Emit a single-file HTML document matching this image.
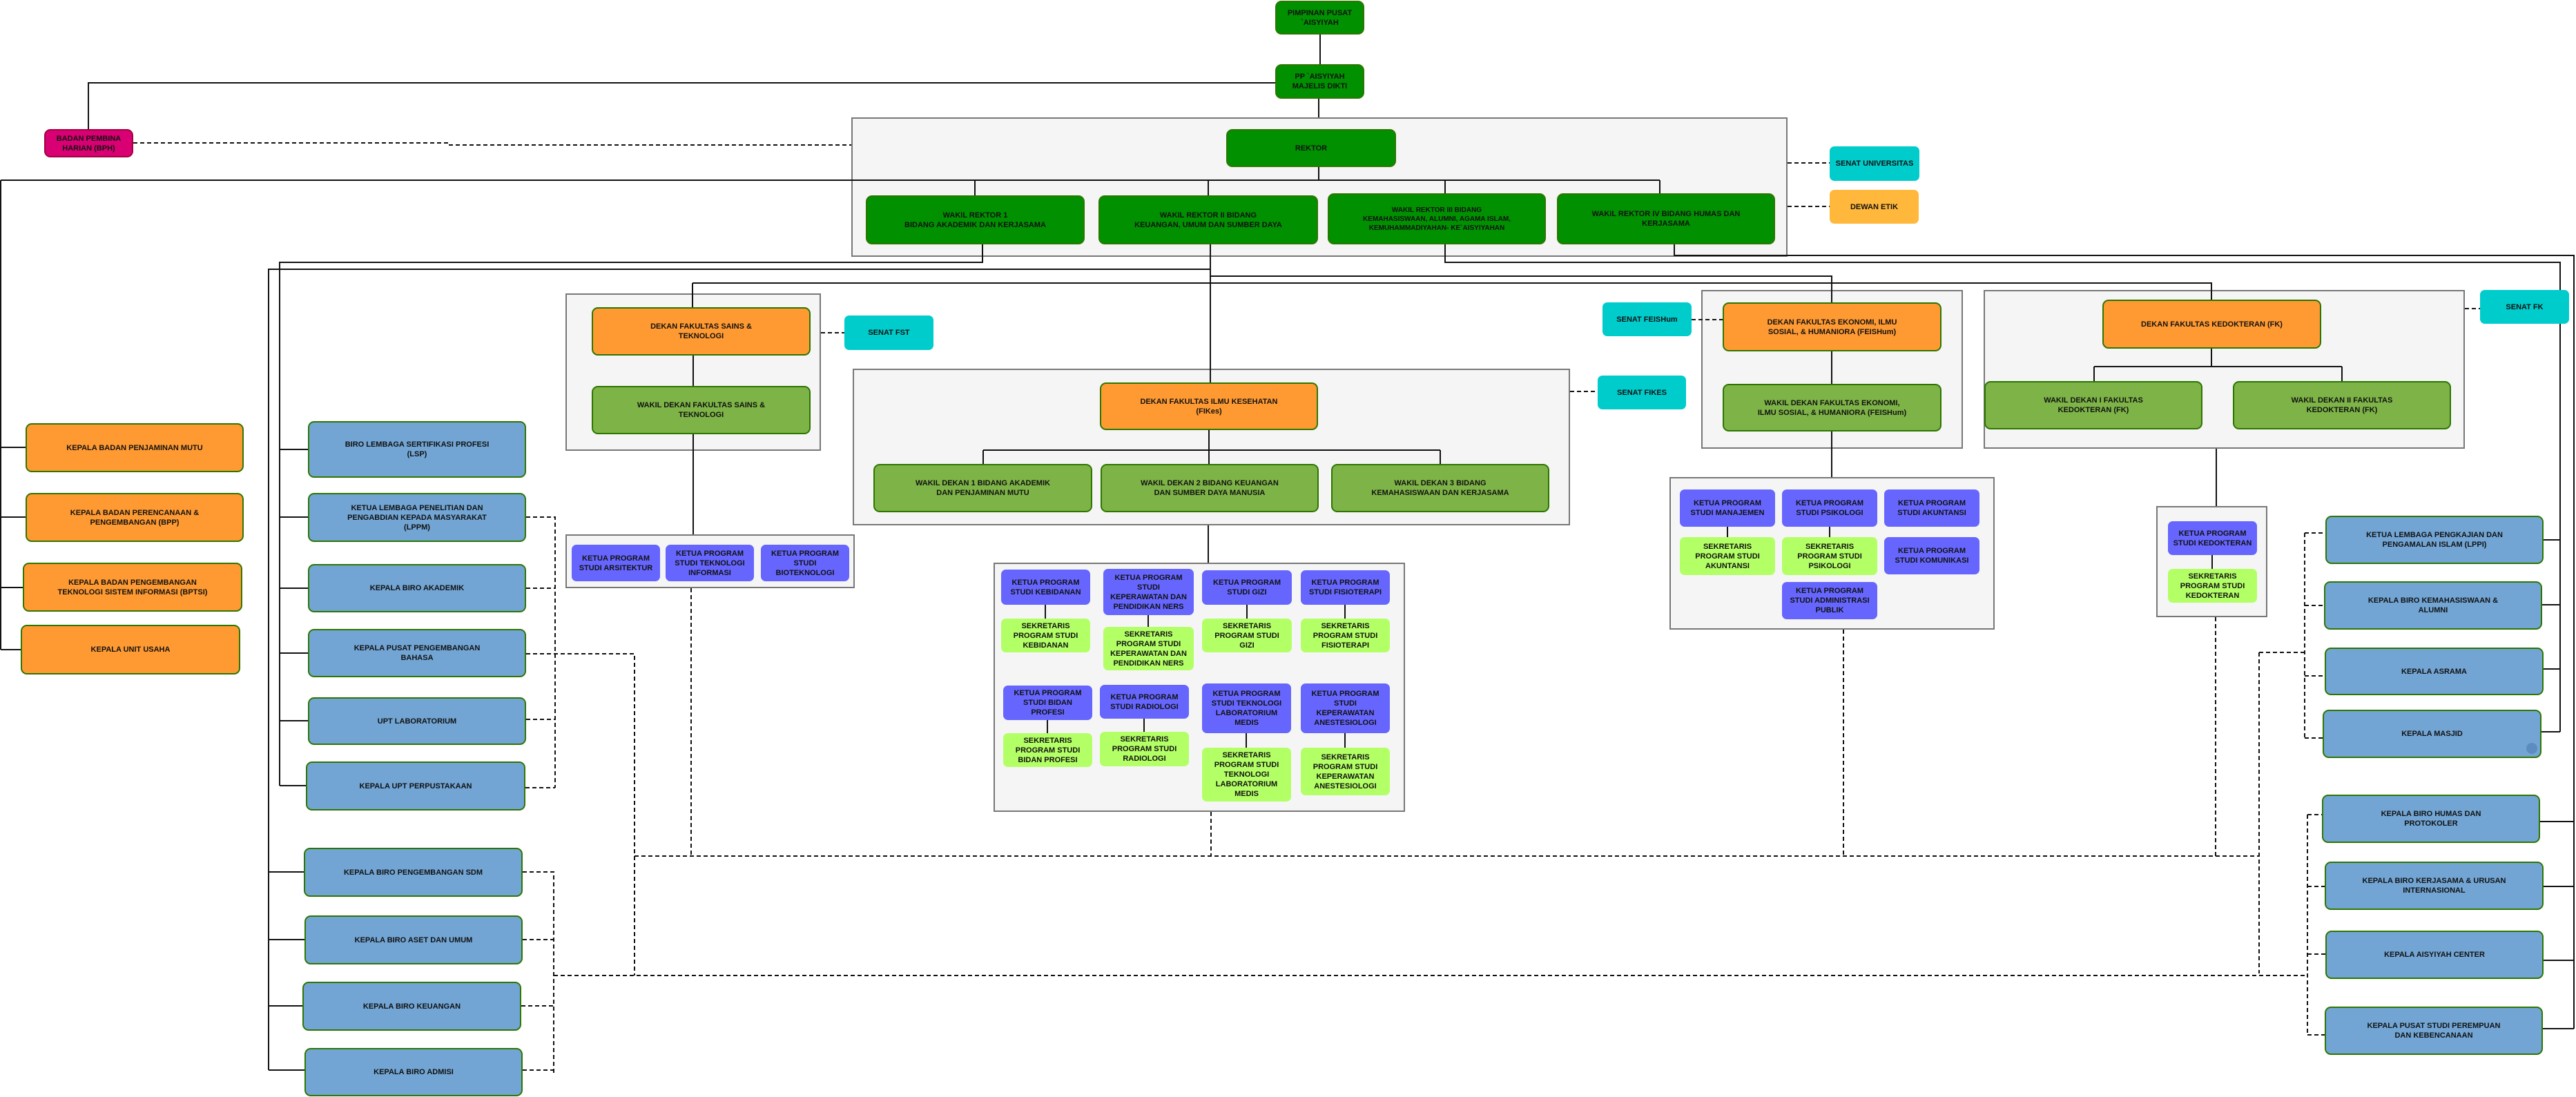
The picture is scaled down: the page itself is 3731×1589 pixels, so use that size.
<!DOCTYPE html>
<html><head><meta charset="utf-8"><style>
html,body{margin:0;padding:0;background:#fff;}
body{width:3731px;height:1589px;position:relative;overflow:hidden;font-family:"Liberation Sans",Arial,sans-serif;}
.c{position:absolute;background:#f5f5f5;border:2px solid #777;box-sizing:border-box;}
.b{position:absolute;box-sizing:border-box;display:flex;align-items:center;justify-content:center;text-align:center;font-size:11px;font-weight:bold;line-height:14px;color:#111;border-radius:9px;border:2px solid #2d7600;padding:0 6px;}
.g{background:#009000;}
.o{background:#ff9a33;}
.l{background:#7db347;}
.bl{background:#72a5d4;}
.p{background:#6666ff;border:none;border-radius:7px;padding:0 2px;white-space:nowrap;}
.s{background:#b3ff66;border:none;border-radius:7px;padding:0 2px;white-space:nowrap;}
.cy{background:#00cccc;border:none;border-radius:7px;}
svg{position:absolute;left:0;top:0;}
</style></head><body>
<div class="c" style="left:1233px;top:170px;width:1356px;height:202px"></div>
<div class="c" style="left:819px;top:425px;width:370px;height:228px"></div>
<div class="c" style="left:1235px;top:534px;width:1039px;height:227px"></div>
<div class="c" style="left:2464px;top:420px;width:379px;height:230px"></div>
<div class="c" style="left:2873px;top:420px;width:697px;height:230px"></div>
<div class="c" style="left:819px;top:774px;width:419px;height:78px"></div>
<div class="c" style="left:1439px;top:815px;width:596px;height:361px"></div>
<div class="c" style="left:2418px;top:691px;width:471px;height:221px"></div>
<div class="c" style="left:3123px;top:733px;width:161px;height:161px"></div>

<svg width="3731" height="1589" viewBox="0 0 3731 1589" fill="none">
<g stroke="#111" stroke-width="2">
<path d="M1847,120H128V187M1912,50V93M1910,143V170M1910,242V261M1,261H2404M1412,261V283M1750,261V283M2093,261V280M2404,261V280"/>
<path d="M1,261V941M1,648H37M1,749H37M1,851H33M1,941H30"/>
<path d="M1423,354V380H405V1138M405,651H446M405,749H446M405,852H446M405,946H446M405,1044H446M405,1138H443"/>
<path d="M1753,354V554M1753,390H389V1550M389,1263H440M389,1361H441M389,1457H438M389,1550H441"/>
<path d="M1753,400H2653V438M1003,410H3203V434M1003,410V445M1004,515V559M1004,629V774"/>
<path d="M2093,354V380H3708V1060M3684,782H3708M3682,876H3708M3684,969H3708M3681,1060H3708"/>
<path d="M2425,354V370H3728V1490M3679,1190H3728M3684,1284H3728M3684,1391H3728M3683,1490H3728"/>
<path d="M1751,623V672M1424,652H2086M1424,652V672M2086,652V672M1750,761V815"/>
<path d="M2653,509V556M2653,625V691M3203,505V531M3033,531H3392M3033,531V552M3392,531V552M3210,650V733M3204,804V824"/>
<path d="M1514,876V896M1663,891V908M1806,876V896M1948,876V896M1517,1043V1062M1657,1041V1060M1805,1062V1083M1948,1062V1083M2502,763V778M2650,763V778"/>
</g>
<g stroke="#111" stroke-width="2" stroke-dasharray="6 4">
<path d="M193,207H650V210H1233M2589,236H2650M2589,299H2650M1189,482H1223M2274,567H2314M2450,463H2495M3570,447H3592"/>
<path d="M762,749H804V1141M762,852H804M762,1042H804M761,1141H804M762,947H919V1413"/>
<path d="M757,1263H802V1554M757,1361H802M755,1457H802M757,1550H802M802,1413H3342"/>
<path d="M919,1240H3272M1001,852V1240M1754,1176V1240M2670,912V1240M3209,894V1240M3272,945V1410M3272,945H3338M3338,772V1069M3338,772H3368M3338,877H3366M3338,979H3367M3338,1069H3364"/>
<path d="M3342,1180V1499M3342,1180H3363M3342,1284H3367M3342,1382H3368M3342,1499H3367"/>
</g>
</svg>

<div class="b g" style="left:1847px;top:1px;width:129px;height:49px">PIMPINAN PUSAT<br>`AISYIYAH</div>
<div class="b g" style="left:1847px;top:93px;width:129px;height:50px">PP `AISYIYAH<br>MAJELIS DIKTI</div>
<div class="b" style="left:64px;top:187px;width:129px;height:41px;background:#d80073;border-color:#a50040">BADAN PEMBINA<br>HARIAN (BPH)</div>
<div class="b g" style="left:1776px;top:187px;width:246px;height:55px">REKTOR</div>
<div class="b g" style="left:1254px;top:283px;width:317px;height:71px">WAKIL REKTOR 1<br>BIDANG AKADEMIK DAN KERJASAMA</div>
<div class="b g" style="left:1591px;top:283px;width:318px;height:71px">WAKIL REKTOR II BIDANG<br>KEUANGAN, UMUM DAN SUMBER DAYA</div>
<div class="b g" style="left:1923px;top:280px;width:316px;height:74px;font-size:10px;line-height:13px">WAKIL REKTOR III BIDANG<br>KEMAHASISWAAN, ALUMNI, AGAMA ISLAM,<br>KEMUHAMMADIYAHAN- KE`AISYIYAHAN</div>
<div class="b g" style="left:2255px;top:280px;width:316px;height:74px">WAKIL REKTOR IV BIDANG HUMAS DAN<br>KERJASAMA</div>
<div class="b cy" style="left:2650px;top:212px;width:130px;height:50px">SENAT UNIVERSITAS</div>
<div class="b cy" style="left:2650px;top:275px;width:129px;height:49px;background:#ffb83b">DEWAN ETIK</div>

<div class="b o" style="left:857px;top:445px;width:317px;height:70px">DEKAN FAKULTAS SAINS &amp;<br>TEKNOLOGI</div>
<div class="b l" style="left:857px;top:559px;width:317px;height:70px">WAKIL DEKAN FAKULTAS SAINS &amp;<br>TEKNOLOGI</div>
<div class="b cy" style="left:1223px;top:457px;width:129px;height:50px">SENAT FST</div>
<div class="b p" style="left:828px;top:789px;width:128px;height:53px">KETUA PROGRAM<br>STUDI ARSITEKTUR</div>
<div class="b p" style="left:964px;top:789px;width:128px;height:53px">KETUA PROGRAM<br>STUDI TEKNOLOGI<br>INFORMASI</div>
<div class="b p" style="left:1102px;top:789px;width:128px;height:53px">KETUA PROGRAM<br>STUDI<br>BIOTEKNOLOGI</div>

<div class="b o" style="left:1593px;top:554px;width:316px;height:69px">DEKAN FAKULTAS ILMU KESEHATAN<br>(FIKes)</div>
<div class="b l" style="left:1265px;top:672px;width:317px;height:70px">WAKIL DEKAN 1 BIDANG AKADEMIK<br>DAN PENJAMINAN MUTU</div>
<div class="b l" style="left:1594px;top:672px;width:316px;height:70px">WAKIL DEKAN 2 BIDANG KEUANGAN<br>DAN SUMBER DAYA MANUSIA</div>
<div class="b l" style="left:1928px;top:672px;width:316px;height:70px">WAKIL DEKAN 3 BIDANG<br>KEMAHASISWAAN DAN KERJASAMA</div>
<div class="b cy" style="left:2314px;top:544px;width:128px;height:49px">SENAT FIKES</div>

<div class="b p" style="left:1450px;top:825px;width:129px;height:51px">KETUA PROGRAM<br>STUDI KEBIDANAN</div>
<div class="b s" style="left:1450px;top:896px;width:129px;height:49px">SEKRETARIS<br>PROGRAM STUDI<br>KEBIDANAN</div>
<div class="b p" style="left:1598px;top:824px;width:131px;height:67px">KETUA PROGRAM<br>STUDI<br>KEPERAWATAN DAN<br>PENDIDIKAN NERS</div>
<div class="b s" style="left:1598px;top:908px;width:131px;height:63px">SEKRETARIS<br>PROGRAM STUDI<br>KEPERAWATAN DAN<br>PENDIDIKAN NERS</div>
<div class="b p" style="left:1741px;top:826px;width:130px;height:50px">KETUA PROGRAM<br>STUDI GIZI</div>
<div class="b s" style="left:1741px;top:896px;width:130px;height:49px">SEKRETARIS<br>PROGRAM STUDI<br>GIZI</div>
<div class="b p" style="left:1884px;top:826px;width:129px;height:50px">KETUA PROGRAM<br>STUDI FISIOTERAPI</div>
<div class="b s" style="left:1884px;top:896px;width:129px;height:49px">SEKRETARIS<br>PROGRAM STUDI<br>FISIOTERAPI</div>
<div class="b p" style="left:1453px;top:993px;width:129px;height:50px">KETUA PROGRAM<br>STUDI BIDAN<br>PROFESI</div>
<div class="b s" style="left:1453px;top:1062px;width:129px;height:49px">SEKRETARIS<br>PROGRAM STUDI<br>BIDAN PROFESI</div>
<div class="b p" style="left:1593px;top:992px;width:129px;height:49px">KETUA PROGRAM<br>STUDI RADIOLOGI</div>
<div class="b s" style="left:1593px;top:1060px;width:129px;height:50px">SEKRETARIS<br>PROGRAM STUDI<br>RADIOLOGI</div>
<div class="b p" style="left:1741px;top:990px;width:129px;height:72px">KETUA PROGRAM<br>STUDI TEKNOLOGI<br>LABORATORIUM<br>MEDIS</div>
<div class="b s" style="left:1741px;top:1083px;width:129px;height:78px">SEKRETARIS<br>PROGRAM STUDI<br>TEKNOLOGI<br>LABORATORIUM<br>MEDIS</div>
<div class="b p" style="left:1884px;top:990px;width:129px;height:72px">KETUA PROGRAM<br>STUDI<br>KEPERAWATAN<br>ANESTESIOLOGI</div>
<div class="b s" style="left:1884px;top:1083px;width:129px;height:69px">SEKRETARIS<br>PROGRAM STUDI<br>KEPERAWATAN<br>ANESTESIOLOGI</div>

<div class="b cy" style="left:2321px;top:438px;width:129px;height:49px">SENAT FEISHum</div>
<div class="b o" style="left:2495px;top:438px;width:317px;height:71px">DEKAN FAKULTAS EKONOMI, ILMU<br>SOSIAL, &amp; HUMANIORA (FEISHum)</div>
<div class="b l" style="left:2495px;top:556px;width:317px;height:69px">WAKIL DEKAN FAKULTAS EKONOMI,<br>ILMU SOSIAL, &amp; HUMANIORA (FEISHum)</div>
<div class="b p" style="left:2433px;top:709px;width:138px;height:54px">KETUA PROGRAM<br>STUDI MANAJEMEN</div>
<div class="b p" style="left:2581px;top:709px;width:138px;height:54px">KETUA PROGRAM<br>STUDI PSIKOLOGI</div>
<div class="b p" style="left:2729px;top:709px;width:138px;height:54px">KETUA PROGRAM<br>STUDI AKUNTANSI</div>
<div class="b s" style="left:2433px;top:778px;width:138px;height:55px">SEKRETARIS<br>PROGRAM STUDI<br>AKUNTANSI</div>
<div class="b s" style="left:2581px;top:778px;width:138px;height:55px">SEKRETARIS<br>PROGRAM STUDI<br>PSIKOLOGI</div>
<div class="b p" style="left:2729px;top:778px;width:138px;height:54px">KETUA PROGRAM<br>STUDI KOMUNIKASI</div>
<div class="b p" style="left:2581px;top:843px;width:138px;height:54px">KETUA PROGRAM<br>STUDI ADMINISTRASI<br>PUBLIK</div>

<div class="b o" style="left:3045px;top:434px;width:317px;height:71px">DEKAN FAKULTAS KEDOKTERAN (FK)</div>
<div class="b l" style="left:2874px;top:552px;width:316px;height:70px">WAKIL DEKAN I FAKULTAS<br>KEDOKTERAN (FK)</div>
<div class="b l" style="left:3234px;top:552px;width:316px;height:70px">WAKIL DEKAN II FAKULTAS<br>KEDOKTERAN (FK)</div>
<div class="b cy" style="left:3592px;top:420px;width:129px;height:49px">SENAT FK</div>
<div class="b p" style="left:3140px;top:755px;width:129px;height:49px">KETUA PROGRAM<br>STUDI KEDOKTERAN</div>
<div class="b s" style="left:3140px;top:824px;width:129px;height:49px">SEKRETARIS<br>PROGRAM STUDI<br>KEDOKTERAN</div>

<div class="b o" style="left:37px;top:613px;width:316px;height:71px">KEPALA BADAN PENJAMINAN MUTU</div>
<div class="b o" style="left:37px;top:714px;width:316px;height:71px">KEPALA BADAN PERENCANAAN &amp;<br>PENGEMBANGAN (BPP)</div>
<div class="b o" style="left:33px;top:815px;width:318px;height:71px">KEPALA BADAN PENGEMBANGAN<br>TEKNOLOGI SISTEM INFORMASI (BPTSI)</div>
<div class="b o" style="left:30px;top:905px;width:318px;height:72px">KEPALA UNIT USAHA</div>

<div class="b bl" style="left:446px;top:610px;width:316px;height:82px">BIRO LEMBAGA SERTIFIKASI PROFESI<br>(LSP)</div>
<div class="b bl" style="left:446px;top:714px;width:316px;height:71px">KETUA LEMBAGA PENELITIAN DAN<br>PENGABDIAN KEPADA MASYARAKAT<br>(LPPM)</div>
<div class="b bl" style="left:446px;top:817px;width:316px;height:70px">KEPALA BIRO AKADEMIK</div>
<div class="b bl" style="left:446px;top:911px;width:316px;height:70px">KEPALA PUSAT PENGEMBANGAN<br>BAHASA</div>
<div class="b bl" style="left:446px;top:1010px;width:316px;height:69px">UPT LABORATORIUM</div>
<div class="b bl" style="left:443px;top:1103px;width:318px;height:71px">KEPALA UPT PERPUSTAKAAN</div>
<div class="b bl" style="left:440px;top:1228px;width:317px;height:71px">KEPALA BIRO PENGEMBANGAN SDM</div>
<div class="b bl" style="left:441px;top:1326px;width:316px;height:71px">KEPALA BIRO ASET DAN UMUM</div>
<div class="b bl" style="left:438px;top:1422px;width:317px;height:71px">KEPALA BIRO KEUANGAN</div>
<div class="b bl" style="left:441px;top:1518px;width:316px;height:70px">KEPALA BIRO ADMISI</div>

<div class="b bl" style="left:3368px;top:747px;width:316px;height:70px">KETUA LEMBAGA PENGKAJIAN DAN<br>PENGAMALAN ISLAM (LPPI)</div>
<div class="b bl" style="left:3366px;top:842px;width:316px;height:70px">KEPALA BIRO KEMAHASISWAAN &amp;<br>ALUMNI</div>
<div class="b bl" style="left:3367px;top:938px;width:317px;height:69px">KEPALA ASRAMA</div>
<div class="b bl" style="left:3364px;top:1028px;width:317px;height:70px">KEPALA MASJID<span style="position:absolute;left:293px;top:46px;width:16px;height:16px;border-radius:50%;background:#5d8cc0"></span></div>
<div class="b bl" style="left:3363px;top:1151px;width:316px;height:70px">KEPALA BIRO HUMAS DAN<br>PROTOKOLER</div>
<div class="b bl" style="left:3367px;top:1248px;width:317px;height:70px">KEPALA BIRO KERJASAMA &amp; URUSAN<br>INTERNASIONAL</div>
<div class="b bl" style="left:3368px;top:1348px;width:316px;height:70px">KEPALA AISYIYAH CENTER</div>
<div class="b bl" style="left:3367px;top:1458px;width:316px;height:70px">KEPALA PUSAT STUDI PEREMPUAN<br>DAN KEBENCANAAN</div>
</body></html>
